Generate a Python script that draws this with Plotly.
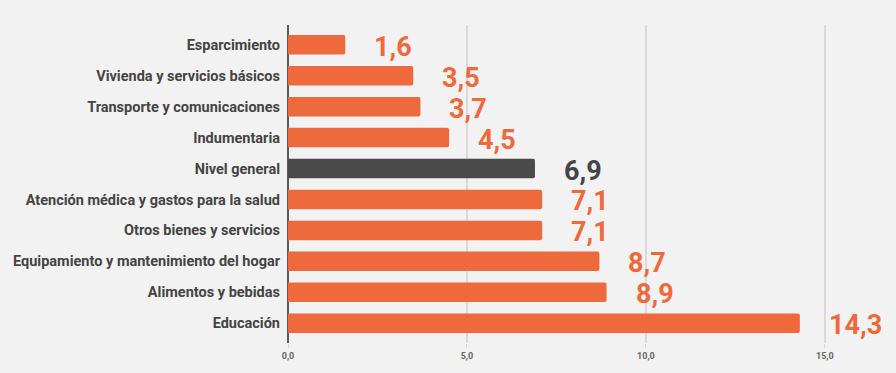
import plotly.graph_objects as go

categories = [
    "Esparcimiento",
    "Vivienda y servicios básicos",
    "Transporte y comunicaciones",
    "Indumentaria",
    "Nivel general",
    "Atención médica y gastos para la salud",
    "Otros bienes y servicios",
    "Equipamiento y mantenimiento del hogar",
    "Alimentos y bebidas",
    "Educación",
]
values = [1.6, 3.5, 3.7, 4.5, 6.9, 7.1, 7.1, 8.7, 8.9, 14.3]
tick_vals = [0, 5, 10, 15]
tick_text = ["0,0", "5,0", "10,0", "15,0"]

ORANGE = "#EE693C"
DARK = "#4A4A4A"
colors = [DARK if c == "Nivel general" else ORANGE for c in categories]
label_colors = ["#444444" if c == "Nivel general" else ORANGE for c in categories]

fig = go.Figure()
fig.add_trace(go.Bar(
    x=values, y=categories, orientation="h",
    marker=dict(color=colors, line=dict(width=0)),
    hoverinfo="skip",
))

for c, v, lc in zip(categories, values, label_colors):
    fig.add_annotation(
        x=v, y=c, text=f"{v:.1f}".replace(".", ","),
        xanchor="left", yanchor="middle", xshift=27, yshift=-2,
        showarrow=False,
        font=dict(family="Roboto", size=27, color=lc, weight="bold"),
    )

fig.update_layout(
    width=896, height=373,
    margin=dict(l=288, r=21, t=25, b=25),
    paper_bgcolor="#F2F2F2", plot_bgcolor="#F2F2F2",
    bargap=0.37,
    barcornerradius=2,
    showlegend=False,
    font=dict(family="Roboto"),
)
fig.update_xaxes(
    range=[0, 16.4], tickvals=tick_vals, ticktext=tick_text,
    showgrid=True, gridcolor="#D9D9D9", gridwidth=1.5,
    zeroline=True, zerolinecolor="#5A5A5A", zerolinewidth=1.5,
    ticks="outside", ticklen=4, tickcolor="#D9D9D9",
    tickfont=dict(family="Roboto", size=9, color="#666666", weight="bold"),
    showline=False,
)
fig.update_yaxes(
    categoryorder="array", categoryarray=categories,
    range=[9.64, -0.64],
    tickfont=dict(family="Roboto", size=14.5, color="#444444", weight="bold"),
    ticks="", showgrid=False, ticklabelstandoff=7,
)

fig.write_html(
    "out.html",
    config={"displayModeBar": False},
    post_script="document.body.style.margin='0';document.body.style.overflow='hidden';",
)
